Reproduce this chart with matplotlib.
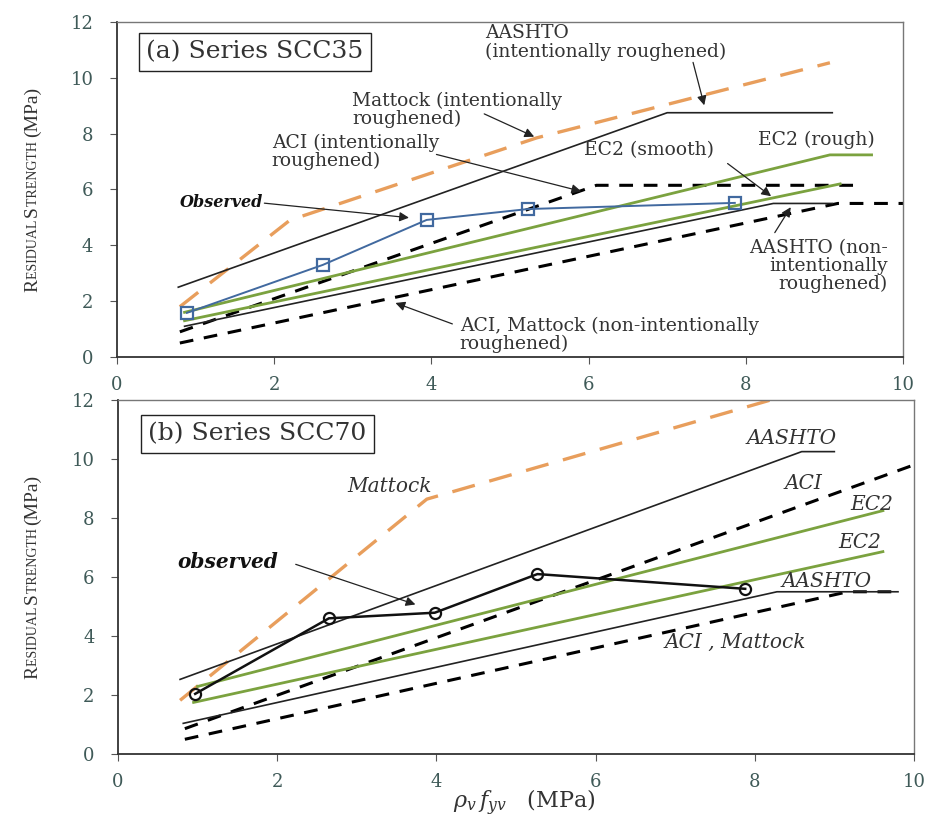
import matplotlib
matplotlib.use("Agg")
import matplotlib.pyplot as plt

plt.rcParams['font.family'] = ['DejaVu Serif']
plt.rcParams['mathtext.fontset'] = 'dejavuserif'

# ---- (a) Series SCC35 ----
a_obs_x = [0.89, 2.62, 3.94, 5.23, 7.86]
a_obs_y = [1.58, 3.30, 4.91, 5.30, 5.52]
a_orange_x = [0.80, 2.20, 5.34, 9.07]
a_orange_y = [1.80, 4.90, 7.85, 10.54]
a_solid_x = [0.78, 7.00, 9.10]
a_solid_y = [2.50, 8.75, 8.75]
a_aci_int_x = [0.80, 6.10, 9.45]
a_aci_int_y = [0.90, 6.15, 6.15]
a_aci_non_x = [0.80, 9.17, 10.0]
a_aci_non_y = [0.50, 5.50, 5.50]
a_ec2_rough_x = [0.86, 9.07, 9.60]
a_ec2_rough_y = [1.60, 7.24, 7.24]
a_ec2_smooth_x = [0.86, 9.20]
a_ec2_smooth_y = [1.30, 6.20]
a_aashto_non_x = [0.86, 8.35, 9.10]
a_aashto_non_y = [1.10, 5.50, 5.50]

# ---- (b) Series SCC70 ----
b_obs_x = [0.97, 2.65, 3.98, 5.27, 7.88]
b_obs_y = [2.04, 4.60, 4.79, 6.10, 5.60]
b_orange_x = [0.78, 3.88, 8.20]
b_orange_y = [1.82, 8.64, 12.0]
b_aashto_up_x = [0.78, 8.59, 9.00]
b_aashto_up_y = [2.53, 10.25, 10.25]
b_aci_up_x = [0.84, 10.0]
b_aci_up_y = [0.86, 9.80]
b_ec2_up_x = [1.00, 9.61]
b_ec2_up_y = [2.29, 8.25]
b_ec2_lo_x = [0.95, 9.61]
b_ec2_lo_y = [1.75, 6.86]
b_aashto_lo_x = [0.82, 8.28, 9.80]
b_aashto_lo_y = [1.04, 5.50, 5.50]
b_aci_lo_x = [0.84, 9.17, 9.80]
b_aci_lo_y = [0.50, 5.50, 5.50]

xticks = [0, 2, 4, 6, 8, 10]
yticks = [0, 2, 4, 6, 8, 10, 12]

# y label written as small caps: (text, size)
ylabel_parts = [('R', 14), ('ESIDUAL ', 10), ('S', 14), ('TRENGTH ', 10), ('(MPa)', 14)]

orange = '#E89E5C'
green = '#7BA23F'
blue = '#41699F'
txt = '#333333'

fig = plt.figure(figsize=(9.32, 8.18), dpi=100)
ax1 = fig.add_axes([0.1255, 0.5636, 0.8434, 0.4095])
ax2 = fig.add_axes([0.1266, 0.0782, 0.8540, 0.4328])

for ax in (ax1, ax2):
    ax.set_xlim(0, 10)
    ax.set_ylim(0, 12)
    ax.set_xticks(xticks)
    ax.set_yticks(yticks)
    ax.tick_params(direction='out', length=5, width=0.8, colors='#555555',
                   labelsize=13, labelcolor='#3f5a58')
    ax.tick_params(axis='y', pad=12)
    ax.tick_params(axis='x', pad=9)
    for s in ax.spines.values():
        s.set_color('#333333')
        s.set_linewidth(1.3)
    ax.spines['top'].set_color('#777777')
    ax.spines['right'].set_color('#777777')
    ax.spines['top'].set_linewidth(1.0)
    ax.spines['right'].set_linewidth(1.0)

arrow = dict(arrowstyle='-|>', color='#222222', lw=0.9, mutation_scale=14)
fs = 13.5

# ---------- panel (a) ----------
ax1.plot(a_orange_x, a_orange_y, color=orange, lw=2.4, dashes=(7, 4.5))
ax1.plot(a_solid_x, a_solid_y, color='#222222', lw=1.2)
ax1.plot(a_aci_int_x, a_aci_int_y, color='black', lw=2.2, dashes=(4.5, 3.5))
ax1.plot(a_aci_non_x, a_aci_non_y, color='black', lw=2.2, dashes=(4.5, 3.5))
ax1.plot(a_aashto_non_x, a_aashto_non_y, color='#222222', lw=1.2)
ax1.plot(a_ec2_rough_x, a_ec2_rough_y, color=green, lw=2.0)
ax1.plot(a_ec2_smooth_x, a_ec2_smooth_y, color=green, lw=2.0)
ax1.plot(a_obs_x, a_obs_y, color=blue, lw=1.4, marker='s', ms=9,
         mfc='none', mec=blue, mew=1.6)

ax1.text(0.37, 10.93, '(a) Series SCC35', fontsize=18, color=txt, va='center',
         bbox=dict(boxstyle='square,pad=0.3', fc='white', ec='#222222', lw=1.0))
ax1.text(4.68, 11.27, 'AASHTO\n(intentionally roughened)', fontsize=fs,
         color=txt, va='center', linespacing=1.0)
ax1.text(2.99, 8.85, 'Mattock (intentionally\nroughened)', fontsize=fs,
         color=txt, va='center', linespacing=1.0)
ax1.text(1.97, 7.35, 'ACI (intentionally\nroughened)', fontsize=fs,
         color=txt, va='center', linespacing=1.0)
ax1.text(0.80, 5.52, 'Observed', fontsize=11.5, color='#111111', va='center',
         fontweight='bold', style='italic')
ax1.text(5.94, 7.42, 'EC2 (smooth)', fontsize=fs, color=txt, va='center')
ax1.text(8.16, 7.78, 'EC2 (rough)', fontsize=fs, color=txt, va='center')
ax1.text(9.81, 3.26, 'AASHTO (non-\nintentionally\nroughened)', fontsize=fs,
         color=txt, va='center', ha='right', linespacing=1.0)
ax1.text(4.36, 0.79, 'ACI, Mattock (non-intentionally\nroughened)', fontsize=fs,
         color=txt, va='center', linespacing=1.0)

ax1.annotate('', xy=(7.48, 8.92), xytext=(7.32, 10.65), arrowprops=arrow)
ax1.annotate('', xy=(5.34, 7.85), xytext=(4.64, 8.75), arrowprops=arrow)
ax1.annotate('', xy=(5.94, 5.91), xytext=(4.03, 7.28), arrowprops=arrow)
ax1.annotate('', xy=(3.75, 4.98), xytext=(1.84, 5.52), arrowprops=arrow)
ax1.annotate('', xy=(8.35, 5.70), xytext=(7.74, 6.99), arrowprops=arrow)
ax1.annotate('', xy=(8.59, 5.45), xytext=(8.35, 4.37), arrowprops=arrow)
ax1.annotate('', xy=(3.51, 1.97), xytext=(4.30, 1.15), arrowprops=arrow)

# ---------- panel (b) ----------
ax2.plot(b_orange_x, b_orange_y, color=orange, lw=2.4, dashes=(7, 4.5))
ax2.plot(b_aashto_up_x, b_aashto_up_y, color='#222222', lw=1.2)
ax2.plot(b_aci_up_x, b_aci_up_y, color='black', lw=2.2, dashes=(4.5, 3.5))
ax2.plot(b_aci_lo_x, b_aci_lo_y, color='black', lw=2.2, dashes=(4.5, 3.5))
ax2.plot(b_aashto_lo_x, b_aashto_lo_y, color='#222222', lw=1.2)
ax2.plot(b_ec2_up_x, b_ec2_up_y, color=green, lw=2.0)
ax2.plot(b_ec2_lo_x, b_ec2_lo_y, color=green, lw=2.0)
ax2.plot(b_obs_x, b_obs_y, color='#111111', lw=1.8, marker='o', ms=8,
         mfc='none', mec='#111111', mew=1.6)

fi = 14.5
ax2.text(0.38, 10.86, '(b) Series SCC70', fontsize=18, color=txt, va='center',
         bbox=dict(boxstyle='square,pad=0.3', fc='white', ec='#222222', lw=1.0))
ax2.text(2.88, 9.07, 'Mattock', fontsize=fi, style='italic', color=txt, va='center')
ax2.text(7.90, 10.68, 'AASHTO', fontsize=fi, style='italic', color=txt, va='center')
ax2.text(8.38, 9.18, 'ACI', fontsize=fi, style='italic', color=txt, va='center')
ax2.text(9.20, 8.46, 'EC2', fontsize=fi, style='italic', color=txt, va='center')
ax2.text(9.05, 7.18, 'EC2', fontsize=fi, style='italic', color=txt, va='center')
ax2.text(8.34, 5.86, 'AASHTO', fontsize=fi, style='italic', color=txt, va='center')
ax2.text(6.87, 3.79, 'ACI , Mattock', fontsize=fi, style='italic', color=txt,
         va='center')
ax2.text(0.75, 6.50, 'observed', fontsize=14.5, color='#111111', va='center',
         fontweight='bold', style='italic')
ax2.annotate('', xy=(3.77, 5.04), xytext=(2.20, 6.46), arrowprops=arrow)

fig.text(0.563, 0.018, r'$\rho_v\,f_{yv}$   (MPa)', fontsize=16, color=txt,
         ha='center', va='center')

# small-caps y labels, stacked piece by piece along a vertical baseline
renderer = fig.canvas.get_renderer()
W, H = fig.bbox.width, fig.bbox.height
for ax in (ax1, ax2):
    pos = ax.get_position()
    texts = []
    for s, size in ylabel_parts:
        t = fig.text(0, 0, s, fontsize=size, family='Liberation Serif', color=txt,
                     rotation=90, rotation_mode='anchor', ha='left', va='baseline')
        texts.append(t)
    lengths = [t.get_window_extent(renderer).height for t in texts]
    y0 = (pos.y0 + pos.y1) / 2 * H - sum(lengths) / 2
    for t, ln in zip(texts, lengths):
        t.set_position((37 / W, y0 / H))
        y0 += ln

fig.savefig('out.png', dpi=100)
